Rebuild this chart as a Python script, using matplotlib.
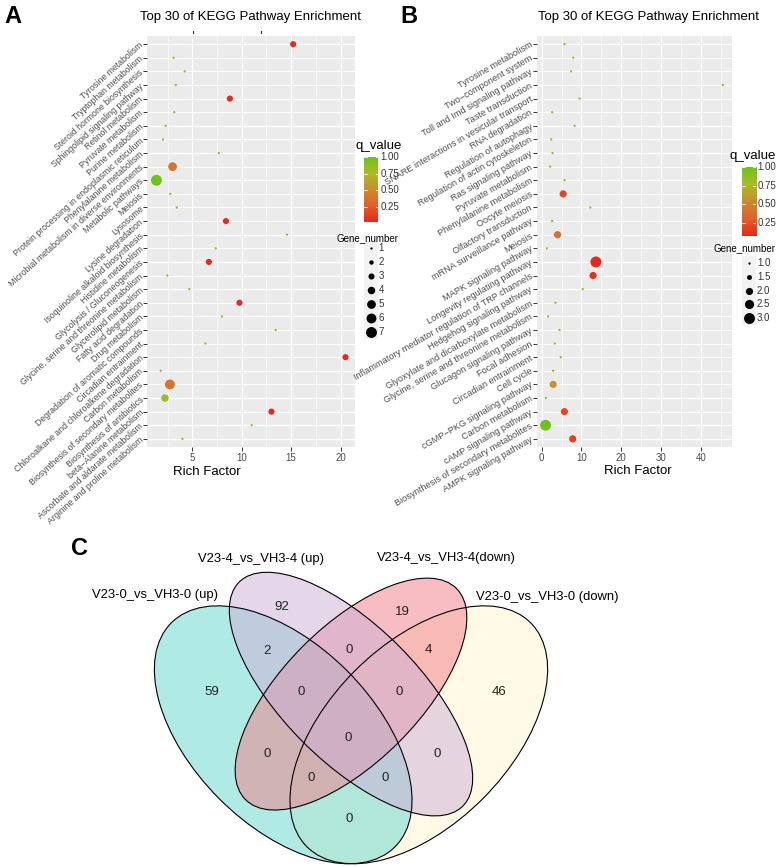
import numpy as np
import matplotlib
matplotlib.use("Agg")
import matplotlib.pyplot as plt
from matplotlib.colors import LinearSegmentedColormap, Normalize
from matplotlib.patches import Ellipse, Rectangle
from matplotlib.ticker import MultipleLocator

plt.rcParams['font.family'] = ['Liberation Sans', 'DejaVu Sans']

# ---------------- data ----------------
A_terms = ["Tyrosine metabolism", "Tryptophan metabolism", "Steroid hormone biosynthesis",
           "Sphingolipid signaling pathway", "Retinol metabolism", "Pyruvate metabolism",
           "Purine metabolism", "Protein processing in endoplasmic reticulum",
           "Phenylalanine metabolism", "Microbial metabolism in diverse environments",
           "Metabolic pathways", "Meiosis", "Lysosome", "Lysine degradation",
           "Isoquinoline alkaloid biosynthesis", "Histidine metabolism",
           "Glycolysis / Gluconeogenesis", "Glycine, serine and threonine metabolism",
           "Glycerolipid metabolism", "Fatty acid degradation", "Drug metabolism",
           "Degradation of aromatic compounds", "Circadian entrainment",
           "Chloroalkane and chloroalkene degradation", "Carbon metabolism",
           "Biosynthesis of secondary metabolites", "Biosynthesis of antibiotics",
           "beta\u2212Alanine metabolism", "Ascorbate and aldarate metabolism",
           "Arginine and proline metabolism"]
A_rich = [15.2, 3.1, 4.23, 3.33, 8.8, 3.17, 2.3, 2.03, 7.67, 3.0,
          1.37, 2.77, 3.43, 8.4, 14.57, 7.37, 6.67, 2.47, 4.7, 9.77,
          8.0, 13.43, 6.33, 20.5, 1.8, 2.73, 2.23, 13.0, 11.0, 4.0]
A_genes = [3, 1, 1, 1, 3, 1, 1, 1, 1, 5,
           7, 1, 1, 3, 1, 1, 3, 1, 1, 3,
           1, 1, 1, 3, 1, 6, 4, 3, 1, 1]
A_q = [0.03, 0.88, 0.88, 0.88, 0.03, 0.88, 0.88, 0.88, 0.88, 0.38,
       1.0, 0.88, 0.88, 0.03, 0.88, 0.88, 0.03, 0.88, 0.88, 0.03,
       0.88, 0.88, 0.88, 0.02, 0.88, 0.38, 0.82, 0.03, 0.88, 0.88]

B_terms = ["Tyrosine metabolism", "Two\u2212component system", "Toll and Imd signaling pathway",
           "Taste transduction", "SNARE interactions in vesicular transport",
           "RNA degradation", "Regulation of autophagy", "Regulation of actin cytoskeleton",
           "Ras signaling pathway", "Pyruvate metabolism", "Phenylalanine metabolism",
           "Oocyte meiosis", "Olfactory transduction", "mRNA surveillance pathway",
           "Meiosis", "MAPK signaling pathway", "Longevity regulating pathway",
           "Inflammatory mediator regulation of TRP channels", "Hedgehog signaling pathway",
           "Glyoxylate and dicarboxylate metabolism", "Glycine, serine and threonine metabolism",
           "Glucagon signaling pathway", "Focal adhesion", "Circadian entrainment",
           "Cell cycle", "cGMP\u2212PKG signaling pathway", "Carbon metabolism",
           "cAMP signaling pathway", "Biosynthesis of secondary metabolites",
           "AMPK signaling pathway"]
B_rich = [5.73, 7.9, 7.4, 45.4, 9.55, 2.65, 8.3, 2.4, 2.74, 2.15,
          5.73, 5.4, 12.2, 2.65, 4.0, 1.32, 13.6, 12.9, 10.3, 3.48,
          1.65, 4.48, 3.3, 4.8, 2.9, 2.9, 1.07, 5.73, 1.0, 7.8]
B_genes = [1, 1, 1, 1, 1, 1, 1, 1, 1, 1,
           1, 2, 1, 1, 2, 1, 3, 2, 1, 1,
           1, 1, 1, 1, 1, 2, 1, 2, 3, 2]
B_q = [0.88, 0.88, 0.88, 0.88, 0.88, 0.88, 0.88, 0.88, 0.88, 0.88,
       0.88, 0.2, 0.88, 0.88, 0.38, 0.88, 0.07, 0.1, 0.88, 0.88,
       0.88, 0.88, 0.88, 0.88, 0.88, 0.55, 0.88, 0.2, 1.0, 0.15]

A_size_breaks = [1, 2, 3, 4, 5, 6, 7]
B_size_breaks = [1.0, 1.5, 2.0, 2.5, 3.0]
q_breaks = [0.25, 0.50, 0.75, 1.00]

venn_sets = ["V23-0_vs_VH3-0 (up)", "V23-4_vs_VH3-4 (up)",
             "V23-4_vs_VH3-4(down)", "V23-0_vs_VH3-0 (down)"]
# region counts (sets: 1=V23-0 up, 2=V23-4 up, 3=V23-4 down, 4=V23-0 down)
venn_regions = ["2", "3", "1", "4", "12", "23", "34", "123", "234",
                "1234", "13", "24", "134", "124", "14"]
venn_counts = [92, 19, 59, 46, 2, 0, 4, 0, 0, 0, 0, 0, 0, 0, 0]

# ---------------- layout ----------------
W, H = 777, 866
fig = plt.figure(figsize=(W / 100, H / 100), dpi=100)
fig.patch.set_facecolor('white')


def rect(x0, y0, x1, y1):
    return [x0 / W, 1 - y1 / H, (x1 - x0) / W, (y1 - y0) / H]


cmap = LinearSegmentedColormap.from_list(
    "qv", [(0.0, "#E8261C"), (0.25, "#E2602A"), (0.5, "#CB8C2C"),
           (0.75, "#A9BC26"), (1.0, "#6CC418")])


def diam_px(g, gmin, gmax):
    g = np.asarray(g, dtype=float)
    size = 1 + 5 * (np.sqrt(g) - np.sqrt(gmin)) / (np.sqrt(gmax) - np.sqrt(gmin))
    return 1.72 * (size + 0.33)


def s_from_px(d):
    return (np.asarray(d) * 0.72) ** 2


# overlay axes in pixel coordinates for legends
ov = fig.add_axes([0, 0, 1, 1], zorder=5)
ov.set_xlim(0, W)
ov.set_ylim(H, 0)
ov.axis('off')
ov.patch.set_alpha(0)


def dot_panel(box, terms, rich, genes, qv, major, minor, angle, lab_fs):
    ax = fig.add_axes(rect(*box))
    n = len(terms)
    ypos = np.arange(n, 0, -1)
    rich = np.asarray(rich, dtype=float)
    lo, hi = rich.min(), rich.max()
    pad = 0.05 * (hi - lo)
    ax.set_xlim(lo - pad, hi + pad)
    ax.set_ylim(0.4, n + 0.6)
    ax.set_facecolor('#EBEBEB')
    for s in ax.spines.values():
        s.set_visible(False)
    ax.xaxis.set_major_locator(MultipleLocator(major))
    ax.xaxis.set_minor_locator(MultipleLocator(minor))
    ax.set_yticks(ypos)
    ax.set_yticklabels(terms, rotation=angle, ha='right', va='center',
                       rotation_mode='anchor', fontsize=lab_fs)
    ax.set_axisbelow(True)
    ax.grid(which='major', color='white', lw=0.85)
    ax.grid(which='minor', axis='x', color='white', lw=0.4)
    ax.tick_params(axis='both', which='major', length=3, width=0.7, color='#333333',
                   labelsize=7, labelcolor='#4D4D4D', pad=1.5)
    ax.tick_params(axis='y', which='major', pad=0.5, labelsize=lab_fs)
    ax.tick_params(axis='x', which='minor', length=0)
    qn = Normalize(min(qv), max(qv))
    g = np.asarray(genes)
    ax.scatter(rich, ypos, s=s_from_px(diam_px(g, g.min(), g.max())), c=qv,
               cmap=cmap, norm=qn, linewidths=0, zorder=3)
    return ax, qn, g.min(), g.max()


def legend(qn, gmin, gmax, qtitle_xy, bar, lab_x, gtitle_xy, key_x, key_y0, key_dy, breaks, fmt):
    ov.text(*qtitle_xy, "q_value", fontsize=9.5, ha='left', va='center', color='black')
    x0, y0, x1, y1 = bar
    cax = fig.add_axes(rect(x0, y0, x1, y1), zorder=6)
    grad = np.linspace(qn.vmin, qn.vmax, 256).reshape(-1, 1)
    cax.imshow(grad, aspect='auto', cmap=cmap, norm=qn, origin='lower',
               extent=[0, 1, qn.vmin, qn.vmax])
    cax.axis('off')
    for v in q_breaks:
        if qn.vmin <= v <= qn.vmax + 1e-9:
            cax.plot([0, 0.2], [v, v], color='white', lw=0.6)
            cax.plot([0.8, 1], [v, v], color='white', lw=0.6)
            yp = y1 - (v - qn.vmin) / (qn.vmax - qn.vmin) * (y1 - y0)
            ov.text(lab_x, yp, f"{v:.2f}", fontsize=7, ha='left', va='center', color='#333333')
    ov.text(*gtitle_xy, "Gene_number", fontsize=7, ha='left', va='center', color='black')
    d = diam_px(breaks, gmin, gmax)
    for i, b in enumerate(breaks):
        yk = key_y0 + i * key_dy
        ov.add_patch(Rectangle((key_x - key_dy / 2, yk - key_dy / 2), key_dy, key_dy,
                               facecolor='#F2F2F2', edgecolor='none'))
        ov.scatter([key_x], [yk], s=s_from_px(d[i]), color='black', linewidths=0, zorder=7)
        ov.text(key_x + 8, yk, fmt(b), fontsize=7, ha='left', va='center', color='#333333')


# Panel A
axA, qnA, gminA, gmaxA = dot_panel((147, 36, 355, 447), A_terms, A_rich, A_genes, A_q,
                                   5, 2.5, 42, 6.3)
fig.text(140 / W, 1 - 16.7 / H, "Top 30 of KEGG Pathway Enrichment", fontsize=9.5,
         ha='left', va='center')
fig.text(206.7 / W, 1 - 471.7 / H, "Rich Factor", fontsize=9.5, ha='center', va='center')
fig.text(12.5 / W, 1 - 16.5 / H, "A", fontsize=17, fontweight='bold', ha='center', va='center')
legend(qnA, gminA, gmaxA, (355, 146), (364.3, 157, 378.3, 222), 380.5, (336.7, 238),
       370.7, 248.3, 14.0, A_size_breaks, lambda b: f"{b:d}")
# two small specks above panel A
ov.plot([192.7, 192.7], [31, 33], color='#333333', lw=0.8)
ov.plot([260.7, 260.7], [31, 33], color='#333333', lw=0.8)

# Panel B
axB, qnB, gminB, gmaxB = dot_panel((536.7, 36, 731.7, 447), B_terms, B_rich, B_genes, B_q,
                                   10, 5, 30, 6.6)
fig.text(538 / W, 1 - 16.7 / H, "Top 30 of KEGG Pathway Enrichment", fontsize=9.5,
         ha='left', va='center')
fig.text(638 / W, 1 - 470.7 / H, "Rich Factor", fontsize=9.5, ha='center', va='center')
fig.text(409 / W, 1 - 16.5 / H, "B", fontsize=17, fontweight='bold', ha='center', va='center')
legend(qnB, gminB, gmaxB, (730, 155.5), (741.7, 167, 756, 236), 757.5, (713, 248.3),
       749, 262.7, 13.9, B_size_breaks, lambda b: f"{b:.1f}")

# ---------------- Venn (panel C) ----------------
vax = fig.add_axes([125 / W, 0, 452 / W, 371 / H])
vax.set_xlim(0, 1)
vax.set_ylim(0.18, 1.0)
vax.axis('off')

ell_geom = [  # center x, center y, semi-major, semi-minor, angle
    (0.35, 0.47, 0.35, 0.20, -45),   # V23-0 up
    (0.50, 0.56, 0.35, 0.15, -45),   # V23-4 up
    (0.50, 0.56, 0.33, 0.15, 45),    # V23-4 down
    (0.65, 0.47, 0.35, 0.20, 45),    # V23-0 down
]
ell_fill = ["#62D6CC", "#CDAFD7", "#F17D87", "#FFF5CD"]
draw_order = [3, 0, 2, 1]
for k in draw_order:
    cx, cy, a, b, ang = ell_geom[k]
    vax.add_patch(Ellipse((cx, cy), 2 * a, 2 * b, angle=ang, facecolor=ell_fill[k],
                          edgecolor='none', alpha=0.5))
for (cx, cy, a, b, ang) in ell_geom:
    vax.add_patch(Ellipse((cx, cy), 2 * a, 2 * b, angle=ang, facecolor='none',
                          edgecolor='black', lw=0.8))

region_px = {"2": (281.7, 607.3), "3": (402.7, 611.7), "1": (211.7, 691.7),
             "4": (499.3, 691.7), "12": (267.3, 650.7), "23": (349.3, 650),
             "34": (428.3, 650), "123": (300.7, 691.7), "234": (399.3, 691.7),
             "1234": (348.3, 737.3), "13": (267.3, 754), "24": (436.7, 754),
             "134": (310.7, 777.3), "124": (385, 777.3), "14": (349.3, 818.3)}


def to_unit(px, py):
    return (px - 125) / 452, (947 - py) / 452


for reg, cnt in zip(venn_regions, venn_counts):
    ux, uy = to_unit(*region_px[reg])
    vax.text(ux, uy, str(cnt), fontsize=9.5, ha='center', va='center', color='#222222')

set_label_px = [(155, 595), (261, 559), (446, 558), (547, 596.7)]
for name, (px, py) in zip(venn_sets, set_label_px):
    ux, uy = to_unit(px, py)
    vax.text(ux, uy, name, fontsize=9.4, ha='center', va='center', color='black', clip_on=False)

fig.text(79 / W, 1 - 548.5 / H, "C", fontsize=17, fontweight='bold', ha='center', va='center')

fig.savefig("out.png", dpi=100, facecolor='white')
